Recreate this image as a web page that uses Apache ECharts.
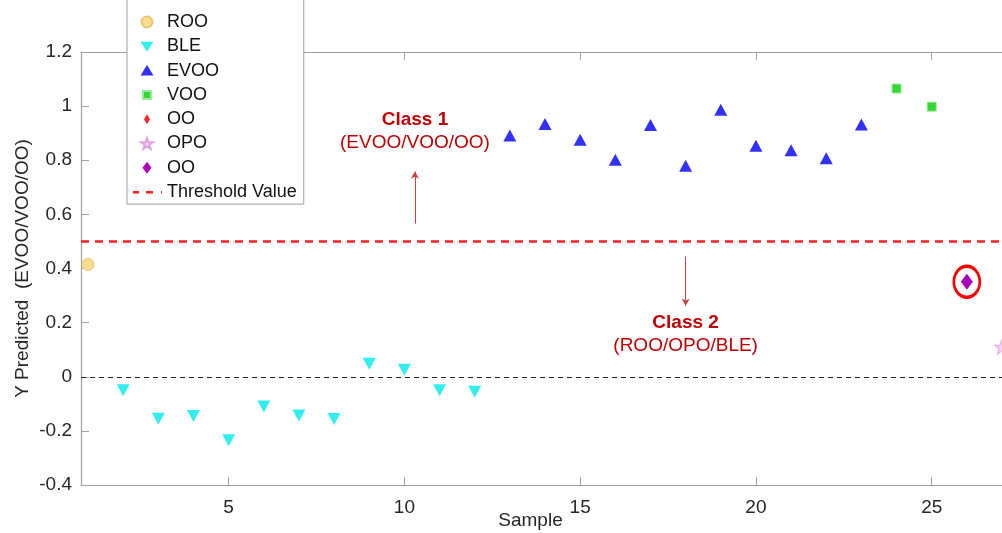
<!DOCTYPE html>
<html>
<head>
<meta charset="utf-8">
<script src="https://cdn.jsdelivr.net/npm/echarts@6/dist/echarts.min.js"></script>
<style>
html,body{margin:0;padding:0;background:#fff;}
#chart{width:1002px;height:533px;}
</style>
</head>
<body>
<div id="chart"></div>
<script>
// ---- data ----
const xRange = [0.8, 27];
const yRange = [-0.4, 1.2];
const xTickValues = [5, 10, 15, 20, 25];
const thresholdValue = 0.5;
const zeroValue = 0;

const rooX = [1];
const rooY = [0.415];
const bleX = [2, 3, 4, 5, 6, 7, 8, 9, 10, 11, 12];
const bleY = [-0.05, -0.155, -0.145, -0.235, -0.11, -0.143, -0.156, 0.048, 0.026, -0.05, -0.055];
const evooX = [13, 14, 15, 16, 17, 18, 19, 20, 21, 22, 23];
const evooY = [0.891, 0.934, 0.876, 0.802, 0.93, 0.78, 0.987, 0.854, 0.837, 0.807, 0.932];
const vooX = [24, 25];
const vooY = [1.065, 0.998];
const ooRedX = [];
const ooRedY = [];
const opoX = [27];
const opoY = [0.11];
const ooX = [26];
const ooY = [0.351];

const class1 = {x: 10.3, y: 0.906, title: 'Class 1', sub: '(EVOO/VOO/OO)', arrowFrom: 0.566, arrowTo: 0.758};
const class2 = {x: 18, y: 0.156, title: 'Class 2', sub: '(ROO/OPO/BLE)', arrowFrom: 0.444, arrowTo: 0.262};

const zip = (xs, ys) => xs.map((x, i) => [x, ys[i]]);
const STAR = 'path://M50,0 L61.8,35.1 L98.9,35.1 L69.1,56.7 L80.3,91.9 L50,70.2 L19.7,91.9 L30.9,56.7 L1.1,35.1 L38.2,35.1 Z';
const FONT = '"Liberation Sans", Arial, Helvetica, sans-serif';
const TXT = '#262626';
const AXC = '#a0a0a0';
const DARKRED = '#C00000';

// legend icons drawn in a 30x12 box (the leading moves fix the box size)
const BOX = 'path://M0,0 M30,12 ';
const legendIcons = {
  'ROO': BOX + 'M9.5,6 A5.5,5.5 0 1 1 20.5,6 A5.5,5.5 0 1 1 9.5,6 Z',
  'BLE': BOX + 'M8.5,1.5 L21.5,1.5 L15,11.5 Z',
  'EVOO': BOX + 'M8.5,11 L21.5,11 L15,0.5 Z',
  'VOO': BOX + 'M11,2 L19,2 L19,10 L11,10 Z',
  'OO': BOX + 'M15,1 L18,6 L15,11 L12,6 Z',
  'OPO': BOX + 'M15,0.5 L16.42,4.71 L20.87,4.71 L17.29,7.3 L18.64,11.53 L15,8.92 L11.36,11.53 L12.71,7.3 L9.13,4.71 L13.58,4.71 Z',
  'OO ': BOX + 'M15,0 L19.5,6 L15,12 L10.5,6 Z',
  'Threshold Value': BOX + 'M1,4.8 L7,4.8 L7,7.3 L1,7.3 Z M14,4.8 L21,4.8 L21,7.3 L14,7.3 Z M29,4.8 L30,4.8 L30,7.3 L29,7.3 Z'
};

const chart = echarts.init(document.getElementById('chart'), null, {renderer: 'canvas'});

const option = {
  animation: false,
  backgroundColor: '#fff',
  textStyle: {fontFamily: FONT},
  grid: {left: 81, right: 0, top: 52, bottom: 48, containLabel: false, outerBoundsMode: 'none'},
  legend: {
    orient: 'vertical',
    left: 127,
    top: -10,
    padding: [23, 7, 3, 4],
    itemWidth: 30,
    itemHeight: 12,
    itemGap: 6.3,
    symbolKeepAspect: true,
    backgroundColor: '#fff',
    borderColor: AXC,
    borderWidth: 1,
    selectedMode: false,
    z: 20,
    textStyle: {fontSize: 18, color: '#111', fontFamily: FONT},
    itemStyle: {opacity: 1},
    formatter: n => n.trim(),
    data: ['ROO', 'BLE', 'EVOO', 'VOO', 'OO', 'OPO', 'OO ', 'Threshold Value'].map(n => ({name: n, icon: legendIcons[n]}))
  },
  xAxis: [{
    type: 'value', min: xRange[0], max: xRange[1], position: 'bottom',
    name: 'Sample', nameLocation: 'middle', nameGap: 26, nameMoveOverlap: false,
    nameTextStyle: {fontSize: 19, color: TXT, fontFamily: FONT, padding: [0, 22, 0, 0]},
    axisLine: {show: true, onZero: false, lineStyle: {color: AXC, width: 1.2}},
    axisTick: {show: true, inside: true, length: 8, lineStyle: {color: AXC}, customValues: xTickValues},
    axisLabel: {show: true, fontSize: 19, color: TXT, margin: 13, fontFamily: FONT, customValues: xTickValues},
    splitLine: {show: false}
  }, {
    type: 'value', min: xRange[0], max: xRange[1], position: 'top',
    axisLine: {show: true, onZero: false, lineStyle: {color: AXC, width: 1.2}},
    axisTick: {show: true, inside: true, length: 8, lineStyle: {color: AXC}, customValues: xTickValues},
    axisLabel: {show: false, customValues: xTickValues},
    splitLine: {show: false}
  }],
  yAxis: {
    type: 'value', min: yRange[0], max: yRange[1], interval: 0.2,
    name: 'Y Predicted  (EVOO/VOO/OO)', nameLocation: 'middle', nameGap: 49, nameMoveOverlap: false,
    nameTextStyle: {fontSize: 19, color: TXT, fontFamily: FONT},
    axisLine: {show: true, onZero: false, lineStyle: {color: AXC, width: 1.2}},
    axisTick: {show: true, inside: true, length: 8, lineStyle: {color: AXC}},
    axisLabel: {fontSize: 19, color: TXT, margin: 9, fontFamily: FONT, formatter: v => String(+v.toFixed(1))},
    splitLine: {show: false}
  },
  series: [
    {
      name: 'ROO', type: 'scatter', data: zip(rooX, rooY), symbol: 'circle', symbolSize: 12,
      itemStyle: {color: '#F8DC90', borderColor: '#E9C778', borderWidth: 1, opacity: 1}, z: 5
    },
    {
      name: 'BLE', type: 'scatter', data: zip(bleX, bleY), symbol: 'triangle', symbolRotate: 180, symbolSize: [13, 12],
      itemStyle: {color: '#33EEEE', opacity: 1}, z: 5
    },
    {
      name: 'EVOO', type: 'scatter', data: zip(evooX, evooY), symbol: 'triangle', symbolSize: [13, 12],
      itemStyle: {color: '#3030F8', opacity: 1}, z: 5
    },
    {
      name: 'VOO', type: 'scatter', data: zip(vooX, vooY), symbol: 'rect', symbolSize: 9,
      itemStyle: {color: '#33D633', borderColor: '#9BE89B', borderWidth: 1, opacity: 1}, z: 5
    },
    {
      name: 'OO', type: 'scatter', data: zip(ooRedX, ooRedY), symbol: 'diamond', symbolSize: [8, 12],
      itemStyle: {color: '#FF2424', opacity: 1}, z: 5
    },
    {
      name: 'OPO', type: 'scatter', data: zip(opoX, opoY), symbol: STAR, symbolSize: 15,
      itemStyle: {color: '#F7D2F7', borderColor: '#E2A2E2', borderWidth: 1, opacity: 1}, z: 5
    },
    {
      name: 'OO ', type: 'scatter', data: zip(ooX, ooY), symbol: 'diamond', symbolSize: [12, 16],
      itemStyle: {color: '#AA00BB', opacity: 1}, z: 5
    },
    {
      name: 'Threshold Value', type: 'line', data: [], symbol: 'none',
      lineStyle: {color: '#FF2020', width: 2.5, type: [8, 6]},
      itemStyle: {color: '#FF2020', opacity: 1},
      markLine: {
        silent: true, symbol: ['none', 'none'], label: {show: false},
        lineStyle: {color: '#FF2020', width: 2.5, type: [8, 6], opacity: 1},
        data: [{yAxis: thresholdValue}]
      }
    },
    {
      name: 'zero', type: 'line', data: [], symbol: 'none',
      markLine: {
        silent: true, symbol: ['none', 'none'], label: {show: false},
        lineStyle: {color: '#222', width: 1, type: [5, 4], opacity: 1},
        data: [{yAxis: zeroValue}]
      }
    },
    {
      name: 'highlight', type: 'scatter', data: zip(ooX, ooY), symbol: 'circle', symbolSize: [26, 31],
      itemStyle: {color: 'rgba(0,0,0,0)', borderColor: '#FF0000', borderWidth: 3, opacity: 1}, z: 4
    },
    {
      name: 'annotations', type: 'scatter', symbolSize: 0, z: 6,
      itemStyle: {opacity: 1},
      data: [class1, class2].map(c => ({value: [c.x, c.y], t: c.title, s: c.sub})),
      label: {
        show: true, position: 'inside',
        formatter: p => '{t|' + p.data.t + '}\n{s|' + p.data.s + '}',
        rich: {
          t: {fontSize: 19, fontWeight: 'bold', color: DARKRED, lineHeight: 23, fontFamily: FONT, align: 'center'},
          s: {fontSize: 19, color: DARKRED, lineHeight: 23, fontFamily: FONT, align: 'center'}
        }
      },
      markLine: {
        silent: true, symbol: ['none', 'arrow'], symbolSize: [6, 7], label: {show: false},
        lineStyle: {color: '#D04040', width: 1, type: 'solid', opacity: 1},
        itemStyle: {color: DARKRED},
        data: [class1, class2].map(c => [{coord: [c.x, c.arrowFrom]}, {coord: [c.x, c.arrowTo]}])
      }
    }
  ]
};
chart.setOption(option);
</script>
</body>
</html>
